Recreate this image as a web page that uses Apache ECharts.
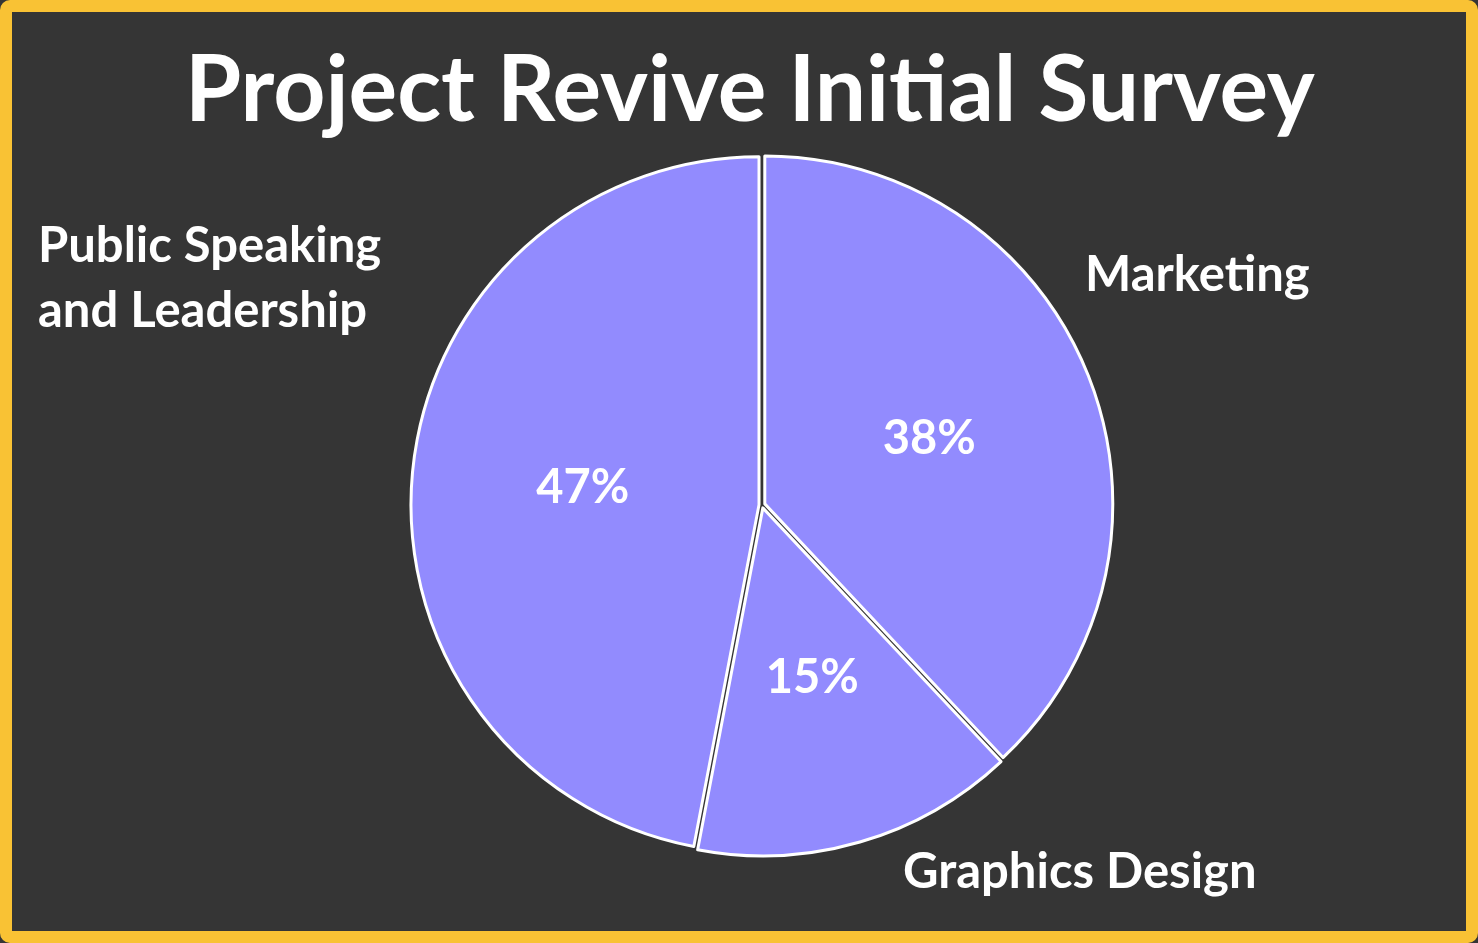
<!DOCTYPE html>
<html>
<head>
<meta charset="utf-8">
<script src="https://cdn.jsdelivr.net/npm/echarts@6/dist/echarts.min.js"></script>
<style>
html,body{margin:0;padding:0;background:#353535;}
#chart{width:1478px;height:943px;}
</style>
</head>
<body>
<div id="chart"></div>
<script>
const titleText = 'Project Revive Initial Survey';
const categories = ['Marketing', 'Graphics Design', 'Public Speaking\nand Leadership'];
const values = [38, 15, 47];

const sliceColor = '#928BFE';
const namePos = [
  {x: 1085, y: 275},
  {x: 903, y: 872},
  {x: 38, y: 279}
];

const data = categories.map((c, i) => ({name: c, value: values[i], selected: true}));

const chart = echarts.init(document.getElementById('chart'));
chart.setOption({
  backgroundColor: '#353535',
  animation: false,
  title: {
    text: titleText,
    left: 180,
    top: 41,
    textStyle: {color: '#ffffff', fontFamily: 'Lato', fontWeight: 'bold', fontSize: 91}
  },
  graphic: [{
    type: 'rect',
    shape: {x: 6, y: 6, width: 1466, height: 931, r: 4},
    style: {fill: 'none', stroke: '#F9C234', lineWidth: 12},
    z: 100
  }],
  series: [
    {
      type: 'pie',
      center: [762, 505],
      radius: [0, 348],
      startAngle: 90,
      clockwise: true,
      selectedMode: 'multiple',
      selectedOffset: 3,
      emphasis: {disabled: true},
      itemStyle: {color: sliceColor, borderColor: '#ffffff', borderWidth: 3},
      label: {
        show: true,
        position: 'inside',
        formatter: p => p.value + '%',
        color: '#ffffff',
        fontFamily: 'Lato',
        fontWeight: 'bold',
        fontSize: 47
      },
      labelLine: {show: false},
      data: data
    },
    {
      type: 'pie',
      center: [762, 505],
      radius: [0, 348],
      startAngle: 90,
      clockwise: true,
      silent: true,
      emphasis: {disabled: true},
      itemStyle: {color: 'transparent', borderWidth: 0},
      label: {
        show: true,
        position: 'outside',
        formatter: p => p.name,
        color: '#ffffff',
        fontFamily: 'Lato',
        fontWeight: 'bold',
        fontSize: 49,
        lineHeight: 65,
        align: 'left'
      },
      labelLine: {show: false},
      labelLayout: p => ({x: namePos[p.dataIndex].x, y: namePos[p.dataIndex].y, align: 'left', verticalAlign: 'middle'}),
      data: categories.map((c, i) => ({name: c, value: values[i]}))
    }
  ]
});
</script>
</body>
</html>
